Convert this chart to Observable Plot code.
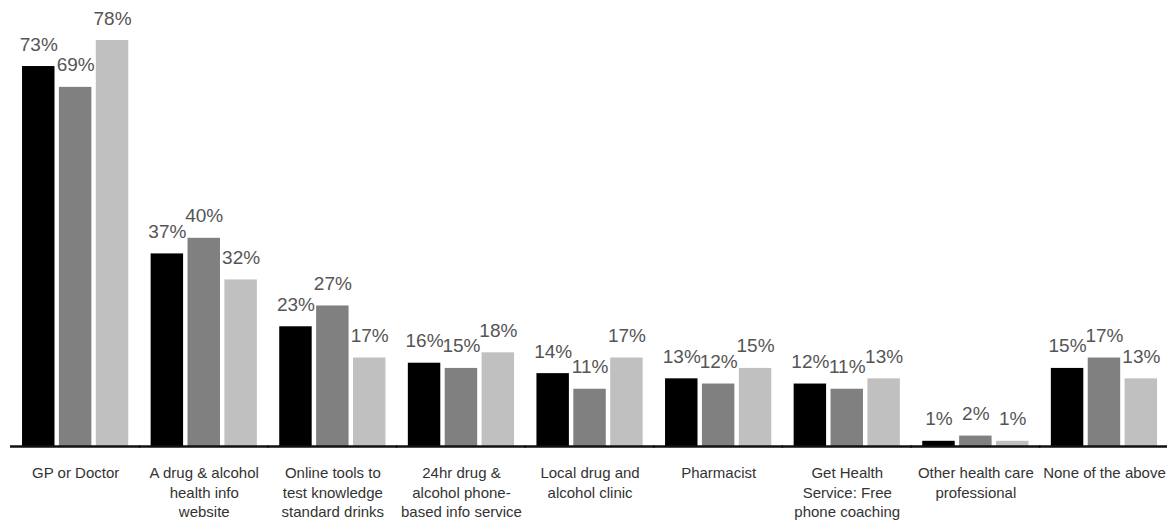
<!DOCTYPE html>
<html><head><meta charset="utf-8">
<script src="https://cdn.jsdelivr.net/npm/d3@7"></script>
<script src="https://cdn.jsdelivr.net/npm/@observablehq/plot@0.6"></script>
<style>body{margin:0;background:#fff}</style>
</head><body><div id="chart"></div>
<script>
const categories = ["GP or Doctor","A drug & alcohol health info website","Online tools to test knowledge standard drinks","24hr drug & alcohol phone-based info service","Local drug and alcohol clinic","Pharmacist","Get Health Service: Free phone coaching","Other health care professional","None of the above"];
const categoryLabels = ["GP or Doctor","A drug & alcohol\nhealth info\nwebsite","Online tools to\ntest knowledge\nstandard drinks","24hr drug &\nalcohol phone-\nbased info service","Local drug and\nalcohol clinic","Pharmacist","Get Health\nService: Free\nphone coaching","Other health care\nprofessional","None of the above"];
const seriesNames = ["Series 1","Series 2","Series 3"];
const series1 = [73,37,23,16,14,13,12,1,15];
const series2 = [69,40,27,15,11,12,11,2,17];
const series3 = [78,32,17,18,17,15,13,1,13];
const seriesColors = ["#000000","#808080","#c0c0c0"];

const seriesValues = [series1, series2, series3];
const data = categories.flatMap((c,i)=>seriesValues.map((s,j)=>({category:c, series:seriesNames[j], value:s[i]})));
const labelOf = new Map(categories.map((c,i)=>[c,categoryLabels[i]]));

const plot = Plot.plot({
  width:1167, height:522, marginLeft:15.6, marginRight:3.5, marginTop:40, marginBottom:76,
  style:{fontFamily:"'Liberation Sans', Arial, sans-serif", background:"#fff", overflow:"visible"},
  fx:{domain:categories, paddingInner:0.174, paddingOuter:0.05, round:false, label:null, axis:null},
  x:{domain:seriesNames, axis:null, paddingInner:0.12, paddingOuter:0, round:false},
  y:{domain:[0, d3.max(data,d=>d.value)], axis:null},
  color:{domain:seriesNames, range:seriesColors},
  marks:[
    Plot.barY(data,{fx:"category", x:"series", y:"value", fill:"series"}),
    Plot.ruleY([0],{stroke:"#111", strokeWidth:2.5, insetLeft:-12, insetRight:-12}),
    Plot.text(data,{fx:"category", x:"series", y:"value", text:d=>d.value+"%", lineAnchor:"bottom", dy:-16, fill:"#555", fontSize:19}),
    Plot.axisFx({anchor:"bottom", tickSize:0, tickPadding:18, fontSize:15, lineHeight:1.3, fill:"#333", tickFormat:c=>labelOf.get(c), label:null})
  ]
});
document.getElementById("chart").append(plot);
</script></body></html>
